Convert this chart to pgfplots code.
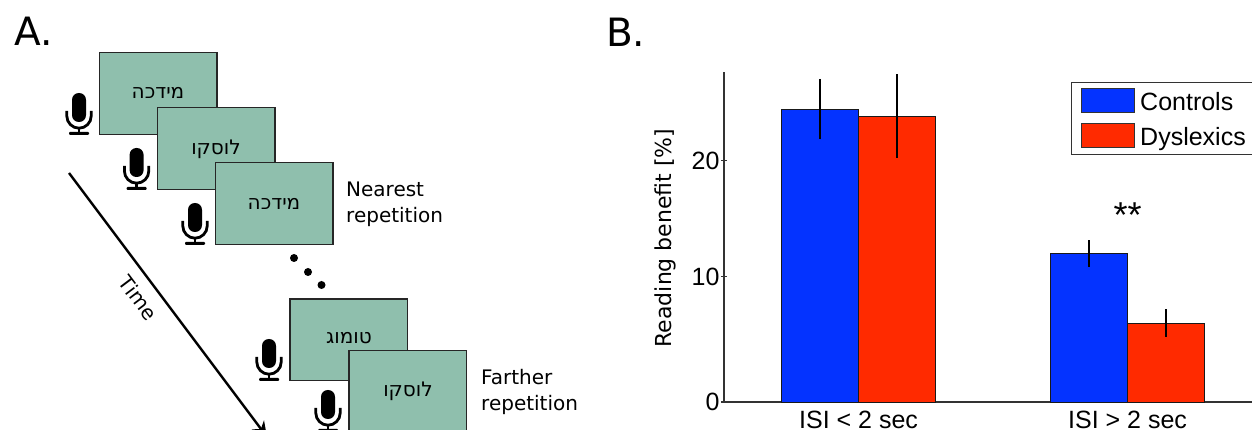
\documentclass[border=0pt]{standalone}
\usepackage{fontspec}
\usepackage{pgfplots}
\pgfplotsset{compat=1.18}
\usetikzlibrary{arrows.meta}
\setmainfont{DejaVu Sans}
\newfontfamily\chartfont{Liberation Sans}
\newfontfamily\hebfont[Script=Hebrew]{DejaVu Sans}
\TeXXeTstate=1
\definecolor{boxgreen}{HTML}{8FBFAD}
\definecolor{barblue}{HTML}{0433FF}
\definecolor{barred}{HTML}{FF2A00}
\definecolor{axisgray}{HTML}{333333}
\newcommand{\px}[1]{\fontsize{#1}{#1}\selectfont}
\newcommand{\stim}[5]{% x0,y0,x1,y1,text
  \draw[fill=boxgreen,draw=black!85,line width=1.6pt] (#1,#2) rectangle (#3,#4);
}
\newcommand{\mic}[2]{%
  \begin{scope}[shift={(#1,#2)}]
    \fill[rounded corners=6.8pt,black] (-7,0) rectangle (7,29);
    \draw[black,line width=2.8pt] (-12.2,18) -- (-12.2,23) arc[start angle=180,end angle=0,radius=12.2] -- (12.2,18);
    \draw[black,line width=2.8pt] (0,35) -- (0,41);
    \fill[black,rounded corners=1pt] (-10,39) rectangle (10,42);
  \end{scope}
}
\begin{document}
\begin{tikzpicture}
\path[use as bounding box] (0pt,0pt) rectangle (1252pt,430pt);
\clip (0pt,0pt) rectangle (1252pt,430pt);
\begin{scope}[x=1pt,y=-1pt,shift={(0pt,430pt)}]
  \node[anchor=base west,inner sep=0pt,font=\px{39}] at (14,46) {A.};
  \node[anchor=base west,inner sep=0pt,font=\px{39}] at (606,47) {B.};
  \stim{99.5}{52.5}{217}{134.5}{}
  \node[font=\hebfont\px{20}] at (158,93) {\beginR מידכה\endR};
  \mic{79}{93}
  \stim{157.5}{107.5}{275}{189.5}{}
  \node[font=\hebfont\px{20}] at (216,149.5) {\beginR לוסקו\endR};
  \mic{136.6}{148}
  \stim{215.5}{162.5}{333}{244.5}{}
  \node[font=\hebfont\px{20}] at (274,204) {\beginR מידכה\endR};
  \mic{195}{203}
  \node[anchor=base west,inner sep=0pt,font=\px{20}] at (346,197) {Nearest};
  \node[anchor=base west,inner sep=0pt,font=\px{20}] at (346,223) {repetition};
  \fill (294,258) circle[radius=4];
  \fill (308,272) circle[radius=4];
  \fill (321.5,285) circle[radius=4];
  \stim{290}{299}{407.5}{380.5}{}
  \node[font=\hebfont\px{20}] at (349,338) {\beginR טומוג\endR};
  \mic{269}{339}
  \stim{349}{350.5}{466.5}{440}{}
  \node[font=\hebfont\px{20}] at (408,391) {\beginR לוסקו\endR};
  \mic{328}{390}
  \node[anchor=base west,inner sep=0pt,font=\px{20}] at (481,385) {Farther};
  \node[anchor=base west,inner sep=0pt,font=\px{20}] at (481,411) {repetition};
  \draw[black,line width=2.4pt,-{Stealth[length=15pt,width=15pt]}] (69,173) -- (267,437);
  \node[rotate=-53,font=\px{20}] at (138.5,298) {Time};
\end{scope}
\begin{axis}[
  at={(724pt,28pt)},anchor=south west,
  scale only axis,width=528pt,height=330pt,
  ybar=0pt,bar width=77pt,
  xmin=0.5,xmax=2.4625,
  y coord trafo/.code={\pgfmathparse{ifthenelse(#1<10,#1*1.078,#1+0.78)}},
  ymin=0,ymax=27.65,
  axis x line=bottom,axis y line=left,
  axis line style={-,axisgray,line width=1.4pt},
  xtick={1,2},xticklabels={ISI < 2 sec,ISI > 2 sec},
  ytick={0,10,20},yticklabels={0,10,20},
  x tick style={draw=none},
  y tick style={axisgray,line width=1.2pt},
  tickwidth=6pt,
  ticklabel style={font=\chartfont\px{25}},
  yticklabel style={xshift=2pt},
  xticklabel style={yshift=-3pt},
  ylabel={Reading benefit [\%]},
  ylabel style={at={(axis description cs:-0.11,0.497)},anchor=center,font=\px{22},rotate=0},
  clip=false,
  legend cell align=left,
  legend style={at={(0.6566,0.9697)},anchor=north west,draw=axisgray,line width=1.2pt,
    font=\chartfont\px{25},inner xsep=10pt,inner ysep=5pt,row sep=9pt},
  legend image code/.code={\draw[#1,draw=black!80,line width=0.9pt] (0pt,-10pt) rectangle (53pt,14pt);\path (56pt,0pt);},
]
\addplot[fill=barblue,draw=black!90,line width=0.9pt,
  error bars/.cd,y dir=both,y explicit,error bar style={black,line width=1.8pt},error mark=none]
  coordinates {(1,24.45) +- (0,2.6) (2,12.0) +- (0,1.17)};
\addplot[fill=barred,draw=black!90,line width=0.9pt,
  error bars/.cd,y dir=both,y explicit,error bar style={black,line width=1.8pt},error mark=none]
  coordinates {(1,23.85) +- (0,3.6) (2,6.3) +- (0,1.2)};
\legend{Controls,Dyslexics}
\node[font=\chartfont\px{36},anchor=center] at (axis cs:2,15.35) {**};
\end{axis}
\end{tikzpicture}
\end{document}
